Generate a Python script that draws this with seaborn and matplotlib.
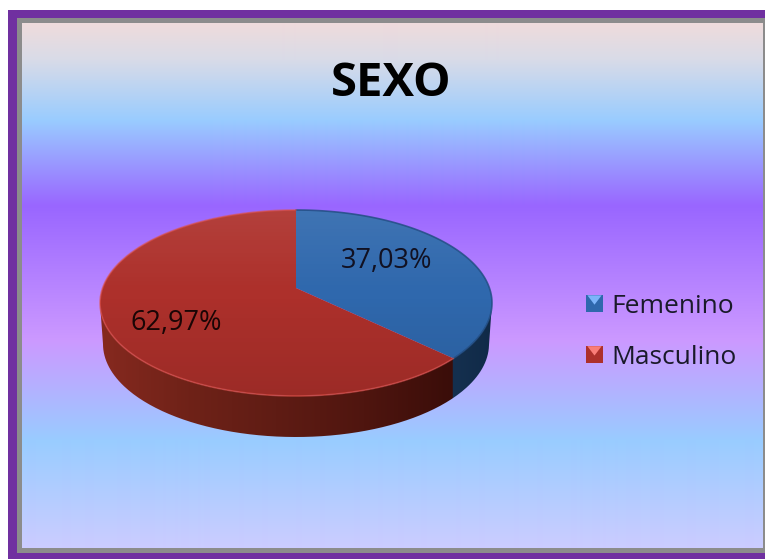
import numpy as np
import matplotlib
matplotlib.use("Agg")
import matplotlib.pyplot as plt
import seaborn as sns
from matplotlib.colors import LinearSegmentedColormap, to_rgb
from matplotlib.legend_handler import HandlerBase
from matplotlib.patches import Ellipse, Patch, PathPatch, Polygon, Rectangle
from matplotlib.path import Path

# Data
categories = ["Femenino", "Masculino"]
values = [37.03, 62.97]
title = "SEXO"

W, H = 765, 559
sns.set_theme(style="white")
plt.rcParams["font.family"] = ["Open Sans", "DejaVu Sans"]

palette = sns.color_palette(["#2f68ad", "#ad302b"])

fig = plt.figure(figsize=(W / 100, H / 100), dpi=100, facecolor="white")

# Frame and background, in pixels
bg = fig.add_axes([0, 0, 1, 1], zorder=0)
bg.set_xlim(0, W)
bg.set_ylim(H, 0)
bg.axis("off")
bg.add_patch(Rectangle((8, 10), W - 8, H - 10, color="#7030a0", lw=0, zorder=1))
bg.add_patch(Rectangle((17, 18), W - 17, 535, color="#8c8c8c", lw=0, zorder=2))

stops = [(23, "#efdbdc"), (60, "#d8dbe8"), (120, "#99ccff"), (205, "#9966ff"),
         (340, "#cc99ff"), (440, "#99ccff"), (548, "#ccccff")]
ys = np.arange(23, 548)
grad = np.array([np.interp(ys, [s[0] for s in stops], [to_rgb(s[1])[i] for s in stops])
                 for i in range(3)]).T[:, None, :]
bg.imshow(grad, extent=(22, 763, 548, 23), aspect="auto", interpolation="bilinear", zorder=3)
bg.set_xlim(0, W)
bg.set_ylim(H, 0)

# Pie axes: apex at (296, 288), one unit is 196 px across and 93 px down
cx, cy, rx, ry = 296, 288, 196, 93
ax = fig.add_axes([0, 0, 1, 1], zorder=1)
ax.patch.set_alpha(0)
ec = -15 / ry          # centre of the top face, relative to the apex
depth = 41 / ry

t = np.linspace(np.pi, 2 * np.pi, 200)
wall = np.vstack([np.c_[np.cos(t), ec + np.sin(t)],
                  np.c_[(193 / 196) * np.cos(t)[::-1], ec - depth + np.sin(t)[::-1]]])
wall_path = Path(wall, closed=False)

# where the slice border meets the rim
a = 2 * np.pi * values[0] / sum(values)
b = -2 * ec * np.cos(a)
r_hit = (-b + np.sqrt(b ** 2 - 4 * (ec ** 2 - 1))) / 2
split = r_hit * np.sin(a)
split_y = r_hit * np.cos(a)

# side wall shading
xs = np.linspace(-1, 1, 400)
red_side = LinearSegmentedColormap.from_list("r", ["#86291f", "#6f2218", "#5f1c14", "#4f150f", "#3a0d09"])
blue_side = LinearSegmentedColormap.from_list("b", ["#15304f", "#102a48"])
col = np.where((xs < split)[:, None],
               red_side((xs + 1) / (split + 1))[:, :3],
               blue_side((xs - split) / (1 - split))[:, :3])
side = ax.imshow(col[None, :, :], extent=(-1, 1, ec - depth - 1.1, ec + 0.1),
                 aspect="auto", interpolation="bilinear", zorder=1)
side.set_clip_path(PathPatch(wall_path, transform=ax.transData))

# top face, a wide pie clipped to the ellipse
face = Ellipse((0, ec), 2, 2, transform=ax.transData)
wedges, _ = ax.pie(values, startangle=90, counterclock=False, colors=palette, radius=2.2,
                   wedgeprops=dict(lw=0, zorder=2))
for w in wedges:
    w.set_clip_on(True)
    w.set_clip_path(face)

# lighter at the back of the face, darker at the front
shade = np.zeros((100, 1, 4))
shade[:45, 0, :3] = 1.0
shade[:45, 0, 3] = np.linspace(0.08, 0.0, 45)
shade[45:, 0, 3] = np.linspace(0.0, 0.1, 55)
top = ax.imshow(shade, extent=(-1, 1, ec - 1, ec + 1), aspect="auto", zorder=3)
top.set_clip_path(face)

# rim, following each slice
split_t = np.arctan2(split_y - ec, split)
t_blue = np.linspace(split_t, np.pi / 2, 100)
t_red = np.linspace(np.pi / 2, 2 * np.pi + split_t, 300)
ax.plot(np.cos(t_blue), ec + np.sin(t_blue), color="#1f4c80", lw=1.2, alpha=0.8, zorder=4)
ax.plot(np.cos(t_red), ec + np.sin(t_red), color="#e0524a", lw=1.2, alpha=0.6, zorder=4)

ax.set_aspect("auto")
ax.set_xlim(-cx / rx, (W - cx) / rx)
ax.set_ylim((cy - H) / ry, cy / ry)
ax.axis("off")


# Text
def fmt(v):
    return f"{v:.2f}%".replace(".", ",")


fig.text(391 / W, 1 - 83 / H, title, fontsize=34, fontweight="bold", color="black",
         ha="center", va="center", zorder=5)
fig.text(387 / W, 1 - 261 / H, fmt(values[0]), fontsize=19.5, color="#111122",
         ha="center", va="center", zorder=5)
fig.text(176 / W, 1 - 323 / H, fmt(values[1]), fontsize=19.5, color="#1a0505",
         ha="center", va="center", zorder=5)


# Legend keys with the small lit triangle on top
class KeyHandler(HandlerBase):
    def create_artists(self, legend, orig, xd, yd, width, height, fontsize, trans):
        c = orig.get_facecolor()
        side_px = 17 * 0.72
        y0 = -yd + (height - side_px) / 2
        x0 = -xd
        base = Rectangle((x0, y0), side_px, side_px, fc=c, ec="none", transform=trans)
        lit = Polygon([(x0 + 1, y0 + side_px), (x0 + side_px - 1, y0 + side_px),
                       (x0 + side_px / 2, y0 + side_px * 0.45)],
                      fc=tuple(min(1, v + 0.3) for v in c[:3]), ec="none", transform=trans)
        return [base, lit]


handles = [Patch(facecolor=palette[i]) for i in range(len(categories))]
fig.legend(handles, categories, handler_map={Patch: KeyHandler()}, loc="center left",
           bbox_to_anchor=(586 / W, 1 - 332 / H), frameon=False, fontsize=19,
           labelcolor="#1a1a2a", borderpad=0, borderaxespad=0, handlelength=0.68,
           handletextpad=0.28, labelspacing=0.98)

fig.savefig("out.png", dpi=100)
